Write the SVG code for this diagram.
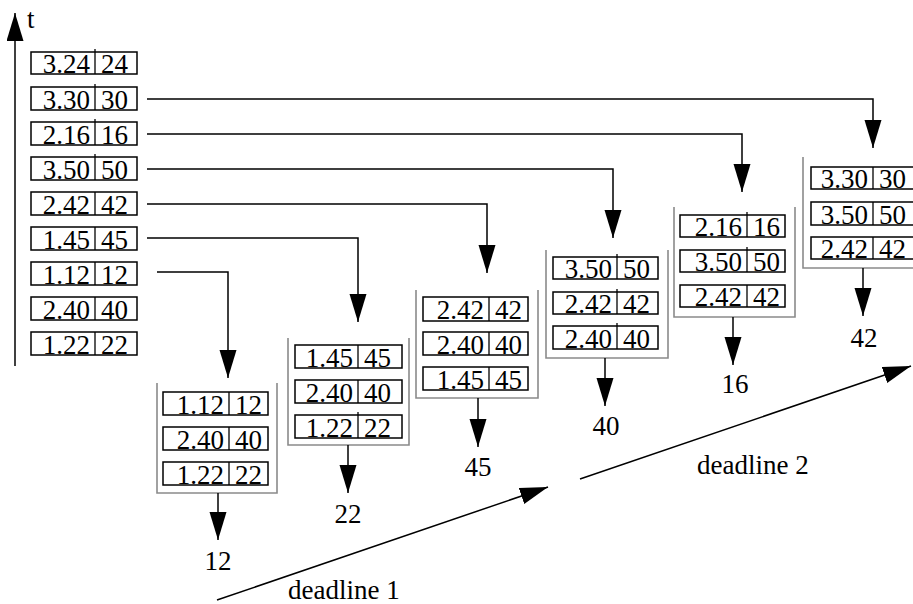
<svg xmlns="http://www.w3.org/2000/svg" width="913" height="604" viewBox="0 0 913 604">
  <style>
    .cell { fill: #fff; stroke: #000; stroke-width: 1.5; }
    .div { stroke: #000; stroke-width: 1.3; }
    .bracket { fill: none; stroke: #8a8a8a; stroke-width: 1.6; }
    .wire { fill: none; stroke: #000; stroke-width: 1.5; }
    text { font-family: "Liberation Serif", "Times New Roman", serif; font-size: 27px; fill: #000; }
    .r { text-anchor: end; }
    .c { text-anchor: middle; }
  </style>
  <defs>
    <marker id="head" markerUnits="userSpaceOnUse" markerWidth="30" markerHeight="18" refX="28" refY="8.5" orient="auto">
      <path d="M0,0 L28,8.5 L0,17 z" fill="#000"/>
    </marker>
  </defs>

  <!-- time axis -->
  <g id="axis">
    <line class="wire" x1="15" y1="366" x2="15" y2="13" marker-end="url(#head)"/>
    <text x="27" y="28">t</text>
  </g>

  <!-- arrival queue (left column) -->
  <g id="queue">
    <g id="q1"><rect class="cell" x="31" y="52" width="106" height="22"/><line class="div" x1="95" y1="49" x2="95" y2="74"/><text class="r" x="90" y="73">3.24</text><text x="101" y="73">24</text></g>
    <g id="q2"><rect class="cell" x="31" y="87" width="106" height="23"/><line class="div" x1="95" y1="84" x2="95" y2="110"/><text class="r" x="90" y="109">3.30</text><text x="101" y="109">30</text></g>
    <g id="q3"><rect class="cell" x="31" y="122" width="106" height="23"/><line class="div" x1="95" y1="119" x2="95" y2="145"/><text class="r" x="90" y="144">2.16</text><text x="101" y="144">16</text></g>
    <g id="q4"><rect class="cell" x="31" y="157" width="106" height="23"/><line class="div" x1="95" y1="154" x2="95" y2="180"/><text class="r" x="90" y="179">3.50</text><text x="101" y="179">50</text></g>
    <g id="q5"><rect class="cell" x="31" y="192" width="106" height="23"/><line class="div" x1="95" y1="192" x2="95" y2="215"/><text class="r" x="90" y="214">2.42</text><text x="101" y="214">42</text></g>
    <g id="q6"><rect class="cell" x="31" y="227" width="106" height="23"/><line class="div" x1="95" y1="227" x2="95" y2="250"/><text class="r" x="90" y="249">1.45</text><text x="101" y="249">45</text></g>
    <g id="q7"><rect class="cell" x="31" y="262" width="106" height="23"/><line class="div" x1="95" y1="262" x2="95" y2="285"/><text class="r" x="90" y="284">1.12</text><text x="101" y="284">12</text></g>
    <g id="q8"><rect class="cell" x="31" y="297" width="106" height="23"/><line class="div" x1="95" y1="297" x2="95" y2="320"/><text class="r" x="90" y="319">2.40</text><text x="101" y="319">40</text></g>
    <g id="q9"><rect class="cell" x="31" y="332" width="106" height="23"/><line class="div" x1="95" y1="332" x2="95" y2="355"/><text class="r" x="90" y="354">1.22</text><text x="101" y="354">22</text></g>
  </g>

  <!-- stack 1 -->
  <g id="stack1">
    <path class="bracket" d="M157,383 V493 H277 V383"/>
    <rect class="cell" x="163" y="392" width="105" height="23"/><line class="div" x1="229" y1="392" x2="229" y2="415"/><text class="r" x="224" y="414">1.12</text><text x="235" y="414">12</text>
    <rect class="cell" x="163" y="427" width="105" height="23"/><line class="div" x1="229" y1="427" x2="229" y2="450"/><text class="r" x="224" y="449">2.40</text><text x="235" y="449">40</text>
    <rect class="cell" x="163" y="462" width="105" height="23"/><line class="div" x1="229" y1="462" x2="229" y2="485"/><text class="r" x="224" y="484">1.22</text><text x="235" y="484">22</text>
    <text class="c" x="218" y="570">12</text>
  </g>

  <!-- stack 2 -->
  <g id="stack2">
    <path class="bracket" d="M288,338 V445 H409 V338"/>
    <rect class="cell" x="295" y="345" width="107" height="23"/><line class="div" x1="358" y1="345" x2="358" y2="368"/><text class="r" x="353" y="367">1.45</text><text x="364" y="367">45</text>
    <rect class="cell" x="295" y="380" width="107" height="23"/><line class="div" x1="358" y1="380" x2="358" y2="403"/><text class="r" x="353" y="402">2.40</text><text x="364" y="402">40</text>
    <rect class="cell" x="295" y="415" width="107" height="23"/><line class="div" x1="358" y1="412" x2="358" y2="438"/><text class="r" x="353" y="437">1.22</text><text x="364" y="437">22</text>
    <text class="c" x="348" y="523">22</text>
  </g>

  <!-- stack 3 -->
  <g id="stack3">
    <path class="bracket" d="M416,290 V398 H538 V290"/>
    <rect class="cell" x="423" y="297" width="105" height="24"/><line class="div" x1="489" y1="297" x2="489" y2="321"/><text class="r" x="484" y="319">2.42</text><text x="495" y="319">42</text>
    <rect class="cell" x="423" y="332" width="105" height="23"/><line class="div" x1="489" y1="332" x2="489" y2="355"/><text class="r" x="484" y="354">2.40</text><text x="495" y="354">40</text>
    <rect class="cell" x="423" y="367" width="105" height="23"/><line class="div" x1="489" y1="367" x2="489" y2="390"/><text class="r" x="484" y="389">1.45</text><text x="495" y="389">45</text>
    <text class="c" x="478" y="476">45</text>
  </g>

  <!-- stack 4 -->
  <g id="stack4">
    <path class="bracket" d="M546,250 V358 H668 V250"/>
    <rect class="cell" x="553" y="257" width="105" height="22"/><line class="div" x1="617" y1="254" x2="617" y2="279"/><text class="r" x="612" y="278">3.50</text><text x="623" y="278">50</text>
    <rect class="cell" x="553" y="292" width="105" height="22"/><line class="div" x1="617" y1="289" x2="617" y2="314"/><text class="r" x="612" y="313">2.42</text><text x="623" y="313">42</text>
    <rect class="cell" x="553" y="326" width="105" height="23"/><line class="div" x1="617" y1="323" x2="617" y2="349"/><text class="r" x="612" y="348">2.40</text><text x="623" y="348">40</text>
    <text class="c" x="606" y="435">40</text>
  </g>

  <!-- stack 5 -->
  <g id="stack5">
    <path class="bracket" d="M674,207 V317 H795 V207"/>
    <rect class="cell" x="680" y="215" width="105" height="22"/><line class="div" x1="747" y1="212" x2="747" y2="237"/><text class="r" x="742" y="236">2.16</text><text x="753" y="236">16</text>
    <rect class="cell" x="680" y="250" width="105" height="22"/><line class="div" x1="747" y1="247" x2="747" y2="272"/><text class="r" x="742" y="271">3.50</text><text x="753" y="271">50</text>
    <rect class="cell" x="680" y="285" width="105" height="22"/><line class="div" x1="747" y1="285" x2="747" y2="307"/><text class="r" x="742" y="306">2.42</text><text x="753" y="306">42</text>
    <text class="c" x="735" y="393">16</text>
  </g>

  <!-- stack 6 -->
  <g id="stack6">
    <path class="bracket" d="M803,157 V268 H924 V157"/>
    <rect class="cell" x="811" y="167" width="105" height="22"/><line class="div" x1="873" y1="167" x2="873" y2="189"/><text class="r" x="868" y="188">3.30</text><text x="879" y="188">30</text>
    <rect class="cell" x="811" y="202" width="105" height="23"/><line class="div" x1="873" y1="202" x2="873" y2="225"/><text class="r" x="868" y="224">3.50</text><text x="879" y="224">50</text>
    <rect class="cell" x="811" y="237" width="105" height="22"/><line class="div" x1="873" y1="237" x2="873" y2="259"/><text class="r" x="868" y="258">2.42</text><text x="879" y="258">42</text>
    <text class="c" x="864" y="347">42</text>
  </g>

  <!-- deadlines -->
  <g id="deadline1">
    <line class="wire" x1="217" y1="600" x2="548" y2="487" marker-end="url(#head)"/>
    <text x="288" y="599">deadline 1</text>
  </g>
  <g id="deadline2">
    <line class="wire" x1="580" y1="479" x2="911" y2="366" marker-end="url(#head)"/>
    <text x="697" y="474">deadline 2</text>
  </g>

  <!-- connectors: queue to stacks, stacks to outputs -->
  <g id="connectors">
    <polyline class="wire" points="147,99 873,99 873,148" marker-end="url(#head)"/>
    <polyline class="wire" points="147,134 742,134 742,192" marker-end="url(#head)"/>
    <polyline class="wire" points="147,169 613,169 613,238" marker-end="url(#head)"/>
    <polyline class="wire" points="147,204 487,204 487,273" marker-end="url(#head)"/>
    <polyline class="wire" points="147,238 358,238 358,322" marker-end="url(#head)"/>
    <polyline class="wire" points="157,272 228,272 228,378" marker-end="url(#head)"/>
    <line class="wire" x1="218" y1="493" x2="218" y2="540" marker-end="url(#head)"/>
    <line class="wire" x1="348" y1="445" x2="348" y2="493" marker-end="url(#head)"/>
    <line class="wire" x1="478" y1="398" x2="478" y2="447" marker-end="url(#head)"/>
    <line class="wire" x1="605" y1="358" x2="605" y2="406" marker-end="url(#head)"/>
    <line class="wire" x1="733" y1="317" x2="733" y2="365" marker-end="url(#head)"/>
    <line class="wire" x1="863" y1="268" x2="863" y2="316" marker-end="url(#head)"/>
  </g>
</svg>
